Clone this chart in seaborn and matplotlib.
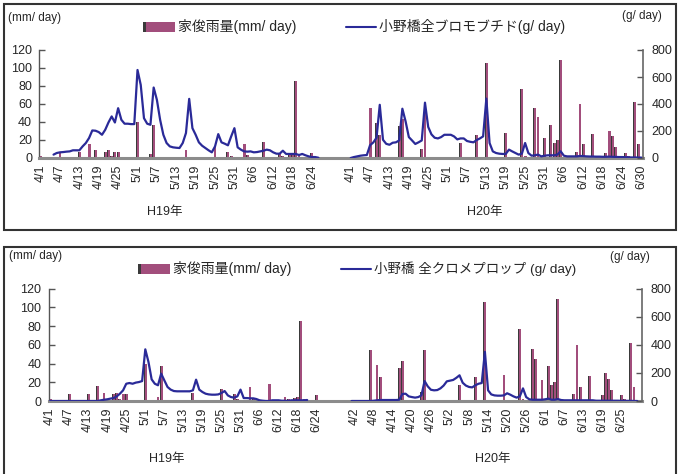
import numpy as np
import pandas as pd
import matplotlib
matplotlib.use('Agg')
import matplotlib.pyplot as plt
from matplotlib.patches import Rectangle
from matplotlib.lines import Line2D
import seaborn as sns

sns.set_theme(style='white')
plt.rcParams['font.family'] = ['Liberation Sans', 'Noto Sans CJK JP']

# ---------------- data ----------------
# rainfall (mm/day): day index from 4/1 of each year
rain_h19_day = [0, 6, 12, 15, 17, 20, 21, 22, 23, 24, 30, 34, 35, 36, 39, 45, 46,
                54, 58, 59, 60, 63, 64, 69, 73, 74, 75, 77, 78, 79, 80, 84]
rain_h19_mm = [2, 7, 7, 16, 9, 7, 9, 2, 7, 7, 40, 4, 37, 1, 1, 9, 1,
               13, 7, 2, 1, 15, 3, 18, 1, 4, 2, 3, 4, 85, 2, 6]
rain_h20_day = [6, 8, 9, 12, 15, 16, 22, 23, 34, 39, 42, 48, 53, 54, 57, 58, 60,
                62, 63, 64, 65, 70, 71, 72, 75, 79, 80, 81, 82, 85, 86, 88, 89]
rain_h20_mm = [55, 39, 26, 1, 35, 43, 10, 54, 17, 26, 106, 28, 77, 2, 56, 45, 22,
               37, 17, 20, 109, 7, 60, 15, 27, 6, 30, 24, 12, 6, 2, 62, 15]

# bromobutide load (g/day), top chart
bromo_h19_start = 4
bromo_h19 = [25, 37, 42, 44, 47, 49, 57, 57, 57, 86,
             111, 148, 204, 202, 192, 172, 209, 263, 308, 263,
             369, 283, 254, 254, 251, 251, 652, 541, 295, 254,
             246, 522, 431, 283, 172, 111, 86, 79, 76, 74,
             111, 185, 438, 221, 172, 116, 91, 74, 57, 42,
             86, 177, 116, 106, 94, 160, 221, 79, 62, 49,
             47, 49, 42, 44, 49, 54, 62, 57, 42, 32,
             32, 54, 30, 30, 30, 30, 22, 30, 20, 12,
             7, 7, 2]
bromo_h20 = [0, 7, 12, 17, 20, 22, 95, 115, 150, 394,
             135, 105, 98, 113, 116, 130, 365, 271, 155, 130,
             104, 116, 130, 410, 230, 175, 150, 145, 155, 172,
             172, 172, 160, 138, 145, 145, 126, 120, 116, 133,
             145, 160, 440, 111, 49, 37, 32, 30, 30, 62,
             49, 37, 25, 32, 111, 37, 17, 20, 25, 12,
             17, 20, 20, 20, 25, 50, 17, 12, 12, 12,
             12, 15, 14, 12, 11, 11, 10, 10, 9, 9,
             10, 9, 8, 7, 7, 6, 5, 4, 4, 3, 3]

# mecoprop load (g/day), bottom chart
meco_h19 = [0, 0, 0, 0, 0, 0, 0, 0, 0, 0,
            0, 0, 0, 0, 0, 0, 5, 9, 12, 17,
            21, 33, 52, 76, 123, 128, 123, 131, 135, 142,
            368, 278, 154, 123, 112, 195, 147, 100, 81, 71,
            69, 69, 69, 69, 69, 76, 152, 81, 64, 52,
            47, 45, 45, 47, 57, 71, 40, 28, 24, 33,
            81, 21, 21, 19, 19, 14, 5, 2, 0, 0,
            5, 5, 5, 2, 2, 0, 5, 5, 5, 5,
            5, 7]
meco_h20 = [0, 0, 0, 0, 0, 0, 0, 2, 5, 7, 7,
            7, 7, 7, 7, 9, 50, 52, 33, 28, 24,
            28, 40, 142, 104, 80, 76, 78, 90, 110, 140,
            145, 150, 165, 183, 130, 110, 100, 97, 112, 123,
            128, 350, 76, 47, 40, 38, 38, 40, 55, 45,
            33, 24, 33, 90, 28, 12, 9, 9, 9, 9,
            12, 17, 9, 9, 14, 7, 5, 5, 5, 5,
            5, 5, 5, 5, 5, 5, 2, 2, 2, 2,
            2, 2, 2, 2, 1, 1, 1, 1, 0, 0]

h20_offset_top = 96
h20_offset_bot = 95

ticks_h19 = ['4/1', '4/7', '4/13', '4/19', '4/25', '5/1', '5/7', '5/13', '5/19',
             '5/25', '5/31', '6/6', '6/12', '6/18', '6/24']
ticks_h20_top = ['4/1', '4/7', '4/13', '4/19', '4/25', '5/1', '5/7', '5/13', '5/19',
                 '5/25', '5/31', '6/6', '6/12', '6/18', '6/24', '6/30']
ticks_h20_bot = ['4/2', '4/8', '4/14', '4/20', '4/26', '5/2', '5/8', '5/14', '5/20',
                 '5/26', '6/1', '6/7', '6/13', '6/19', '6/25']

BAR = '#A24E7C'
BAR_DARK = '#3a3a3a'
LINE = '#2a2a98'
W, H = 680, 474

fig = plt.figure(figsize=(6.8, 4.74), dpi=100)


def fx(x):
    return x / W


def fy(y):
    return 1 - y / H


def panel(rect, offset, l19, l19_start, l20, tick_labels):
    ax = fig.add_axes(rect)
    xs = np.array(rain_h19_day + [offset + d for d in rain_h20_day], dtype=float)
    mm = np.array(rain_h19_mm + rain_h20_mm, dtype=float)
    # rainfall bars: mauve face with a dark shaded left side
    ax.bar(xs, mm, width=0.9, color=BAR, linewidth=0)
    ax.bar(xs - 0.32, mm, width=0.26, color=BAR_DARK, linewidth=0)
    ax2 = ax.twinx()
    x19 = np.arange(len(l19)) + l19_start
    x20 = np.arange(len(l20)) + offset
    sns.lineplot(x=x19, y=l19, ax=ax2, color=LINE, linewidth=1.6)
    sns.lineplot(x=x20, y=l20, ax=ax2, color=LINE, linewidth=1.6)

    ax.set_xlim(-0.5, 186.5)
    ax.set_ylim(0, 120)
    ax2.set_ylim(0, 800)
    ax.set_yticks(range(0, 121, 20))
    ax2.set_yticks(range(0, 801, 200))
    ax.set_xticks(np.arange(0, 187, 6))
    ax.set_xticklabels(tick_labels, rotation=90, fontsize=9)
    ax.tick_params(axis='x', length=0, pad=5)
    ax.tick_params(axis='y', direction='in', length=4, width=1, color='#555555',
                   labelsize=9, pad=5, left=True)
    ax2.tick_params(axis='y', direction='in', length=4, width=1, color='#555555',
                    labelsize=9, pad=6, right=True)
    for a in (ax, ax2):
        a.set_xlabel('')
        a.set_ylabel('')
        a.grid(False)
    ax.spines['top'].set_visible(False)
    ax.spines['right'].set_visible(False)
    ax.spines['left'].set_color('#555555')
    ax.spines['left'].set_linewidth(1)
    ax.spines['bottom'].set_color('#8c8c8c')
    ax.spines['bottom'].set_linewidth(2.2)
    for s in ('top', 'left', 'bottom'):
        ax2.spines[s].set_visible(False)
    ax2.spines['right'].set_color('#666666')
    ax2.spines['right'].set_linewidth(1.2)
    return ax, ax2


# top panel
panel([fx(39), fy(158), fx(643) - fx(39), fy(50) - fy(158)], h20_offset_top,
      bromo_h19, bromo_h19_start, bromo_h20, ticks_h19 + [''] + ticks_h20_top)
# bottom panel
panel([fx(48.5), fy(401), fx(642) - fx(48.5), fy(288.7) - fy(401)], h20_offset_bot,
      meco_h19, 0, meco_h20, ticks_h19 + [''] + ticks_h20_bot + [''])

# panel frames
for y0, y1 in ((4, 230), (247, 478)):
    fig.patches.append(Rectangle((fx(4), fy(y1)), fx(676) - fx(4), fy(y0) - fy(y1),
                                 transform=fig.transFigure, fill=False,
                                 edgecolor='#333333', linewidth=1.5))


def legend(y, bx, lx, line_text, lsize):
    fig.patches.append(Rectangle((fx(bx), fy(y + 5)), fx(32), 10 / H,
                                 transform=fig.transFigure, facecolor=BAR,
                                 edgecolor='none'))
    fig.patches.append(Rectangle((fx(bx), fy(y + 5)), fx(3), 10 / H,
                                 transform=fig.transFigure, facecolor=BAR_DARK,
                                 edgecolor='none'))
    fig.text(fx(bx + 35), fy(y), '家俊雨量(mm/ day)', fontsize=10, va='center', ha='left')
    fig.lines.append(Line2D([fx(lx), fx(lx + 30)], [fy(y), fy(y)],
                            transform=fig.transFigure, color=LINE, linewidth=1.5))
    fig.text(fx(lx + 33), fy(y), line_text, fontsize=lsize, va='center', ha='left')


legend(27, 143, 346, '小野橋全ブロモブチド(g/ day)', 10)
legend(269, 138, 341, '小野橋 全クロメプロップ (g/ day)', 9.7)

# unit labels and period labels
fig.text(fx(8), fy(18), '(mm/ day)', fontsize=8.5, va='center', ha='left')
fig.text(fx(622), fy(16), '(g/ day)', fontsize=8.5, va='center', ha='left')
fig.text(fx(9), fy(256), '(mm/ day)', fontsize=8.5, va='center', ha='left')
fig.text(fx(610), fy(257), '(g/ day)', fontsize=8.5, va='center', ha='left')
fig.text(fx(165), fy(212), 'H19年', fontsize=9, va='center', ha='center')
fig.text(fx(485), fy(212), 'H20年', fontsize=9, va='center', ha='center')
fig.text(fx(167), fy(459), 'H19年', fontsize=9, va='center', ha='center')
fig.text(fx(493), fy(459), 'H20年', fontsize=9, va='center', ha='center')

fig.savefig('out.png', dpi=100)
